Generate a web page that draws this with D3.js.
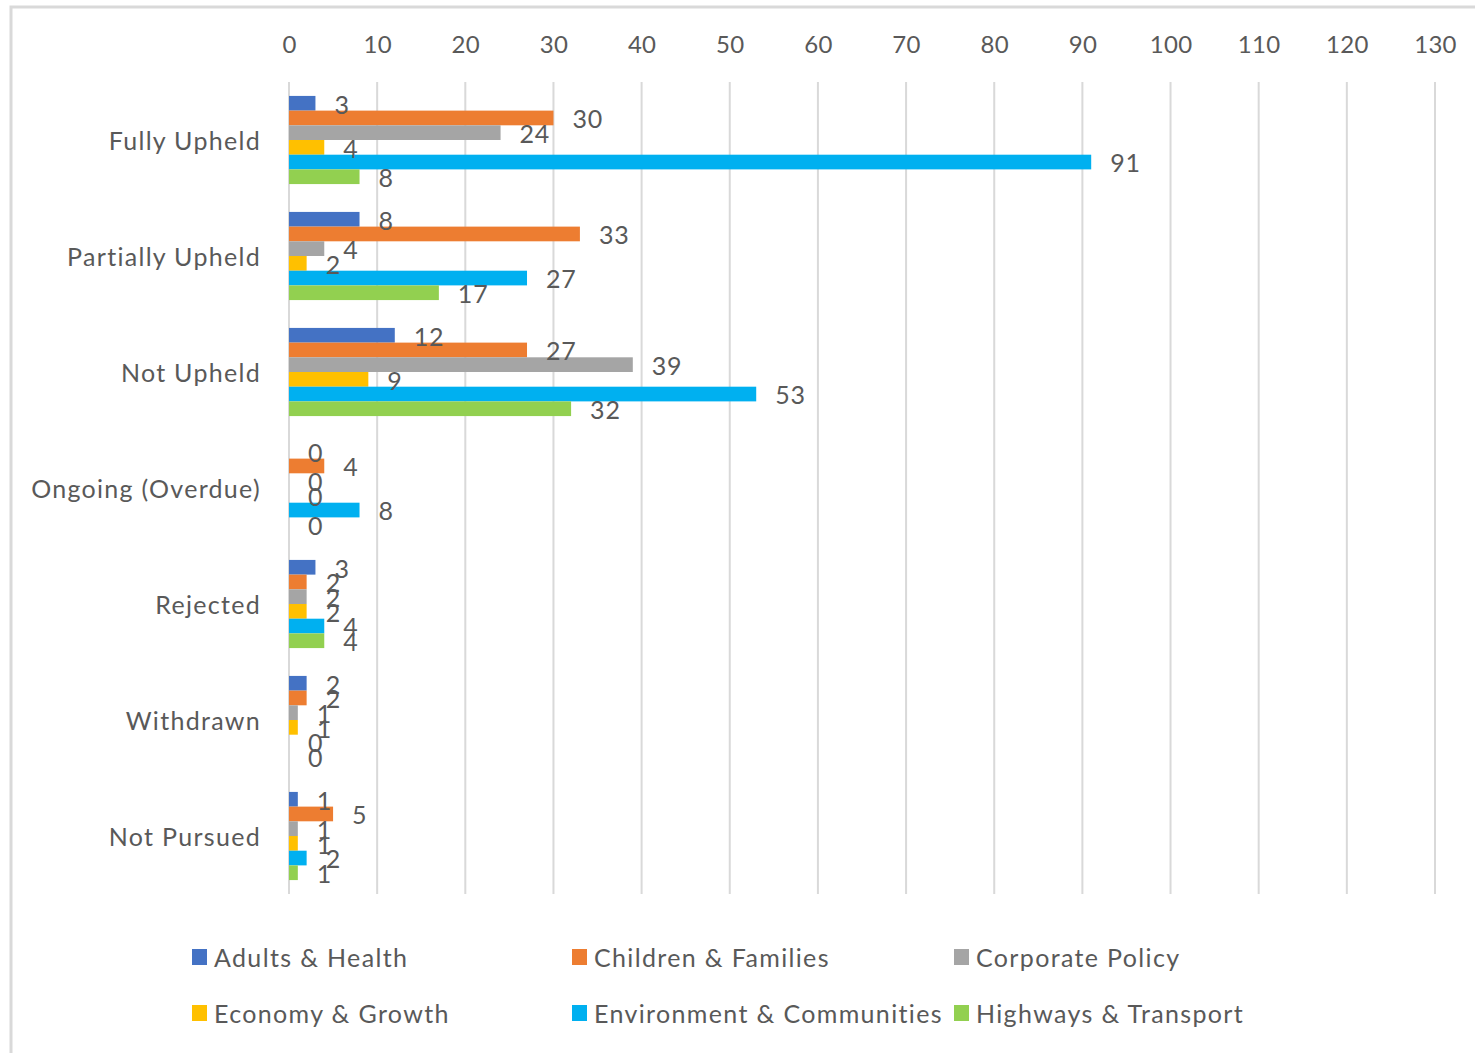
<!DOCTYPE html>
<html>
<head>
<meta charset="utf-8">
<script src="https://cdn.jsdelivr.net/npm/d3@7"></script>
<style>
  html, body { margin: 0; padding: 0; background: #ffffff; }
  svg { display: block; }
  text { font-family: Lato, "Open Sans", sans-serif; fill: #595959; }
</style>
</head>
<body>
<svg id="chart" width="1475" height="1053"></svg>
<script>
// Complaint outcomes by directorate
const categories = ["Fully Upheld", "Partially Upheld", "Not Upheld", "Ongoing (Overdue)", "Rejected", "Withdrawn", "Not Pursued"];
const seriesNames = ["Adults & Health", "Children & Families", "Corporate Policy", "Economy & Growth", "Environment & Communities", "Highways & Transport"];
const adultsHealth        = [3, 8, 12, 0, 3, 2, 1];
const childrenFamilies    = [30, 33, 27, 4, 2, 2, 5];
const corporatePolicy     = [24, 4, 39, 0, 2, 1, 1];
const economyGrowth       = [4, 2, 9, 0, 2, 1, 1];
const environmentComm     = [91, 27, 53, 8, 4, 0, 2];
const highwaysTransport   = [8, 17, 32, 0, 4, 0, 1];
const xTicks = [0, 10, 20, 30, 40, 50, 60, 70, 80, 90, 100, 110, 120, 130];
const colors = ["#4472C4", "#ED7D31", "#A5A5A5", "#FFC000", "#00B0F0", "#92D050"];

const seriesValues = [adultsHealth, childrenFamilies, corporatePolicy, economyGrowth, environmentComm, highwaysTransport];

const svg = d3.select("#chart");

// outer chart frame
svg.append("rect")
  .attr("x", 11).attr("y", 7)
  .attr("width", 1475).attr("height", 1060)
  .attr("fill", "none").attr("stroke", "#d9d9d9").attr("stroke-width", 3);

const plot = { left: 289, right: 1435, top: 82, bottom: 894 };

const x = d3.scaleLinear().domain([0, 130]).range([plot.left, plot.right]);
const y = d3.scaleBand().domain(categories).range([plot.top, plot.bottom])
  .paddingInner(0.24).paddingOuter(0.12);
const ySub = d3.scaleBand().domain(seriesNames).range([0, y.bandwidth()]).padding(0);

// vertical gridlines
svg.append("g").selectAll("line").data(xTicks).join("line")
  .attr("x1", d => x(d)).attr("x2", d => x(d))
  .attr("y1", plot.top).attr("y2", plot.bottom)
  .attr("stroke", "#d9d9d9").attr("stroke-width", 2);

// top value axis
const xAxis = d3.axisTop(x).tickValues(xTicks).tickSize(0).tickPadding(0);
const gx = svg.append("g").attr("transform", `translate(0, 53)`).call(xAxis);
gx.select(".domain").remove();
gx.selectAll("text").attr("font-size", 24).attr("fill", "#595959")
  .style("font-family", "Lato, 'Open Sans', sans-serif")
  .style("letter-spacing", "0.3px");

// category axis labels
const yAxis = d3.axisLeft(y).tickSize(0).tickPadding(28);
const gy = svg.append("g").attr("transform", `translate(${plot.left}, 0)`).call(yAxis);
gy.select(".domain").remove();
gy.selectAll("text").attr("font-size", 25).attr("fill", "#595959")
  .style("font-family", "Lato, 'Open Sans', sans-serif")
  .style("letter-spacing", "1.3px")
  .attr("dy", "0.4em");

// bars and value labels
const flat = [];
categories.forEach((c, ci) => {
  seriesNames.forEach((s, si) => {
    flat.push({ cat: c, series: s, si, value: seriesValues[si][ci] });
  });
});

svg.append("g").selectAll("rect").data(flat).join("rect")
  .attr("x", x(0))
  .attr("y", d => y(d.cat) + ySub(d.series))
  .attr("width", d => x(d.value) - x(0))
  .attr("height", ySub.bandwidth())
  .attr("fill", d => colors[d.si]);

svg.append("g").selectAll("text").data(flat).join("text")
  .attr("x", d => x(d.value) + 19)
  .attr("y", d => y(d.cat) + ySub(d.series) + ySub.bandwidth() / 2 + 1.5)
  .attr("dy", "0.35em")
  .attr("font-size", 25)
  .style("letter-spacing", "0.8px")
  .text(d => d.value);

// legend
const legendPos = [
  [192, 957], [572, 957], [954, 957],
  [192, 1013], [572, 1013], [954, 1013]
];
const legend = svg.append("g").selectAll("g").data(seriesNames).join("g")
  .attr("transform", (d, i) => `translate(${legendPos[i][0]}, ${legendPos[i][1]})`);
legend.append("rect")
  .attr("x", 0).attr("y", -8).attr("width", 15).attr("height", 16)
  .attr("fill", (d, i) => colors[i]);
legend.append("text")
  .attr("x", 22).attr("y", 0).attr("dy", "0.38em")
  .attr("font-size", 25)
  .style("letter-spacing", "1.35px")
  .text(d => d);
</script>
</body>
</html>
